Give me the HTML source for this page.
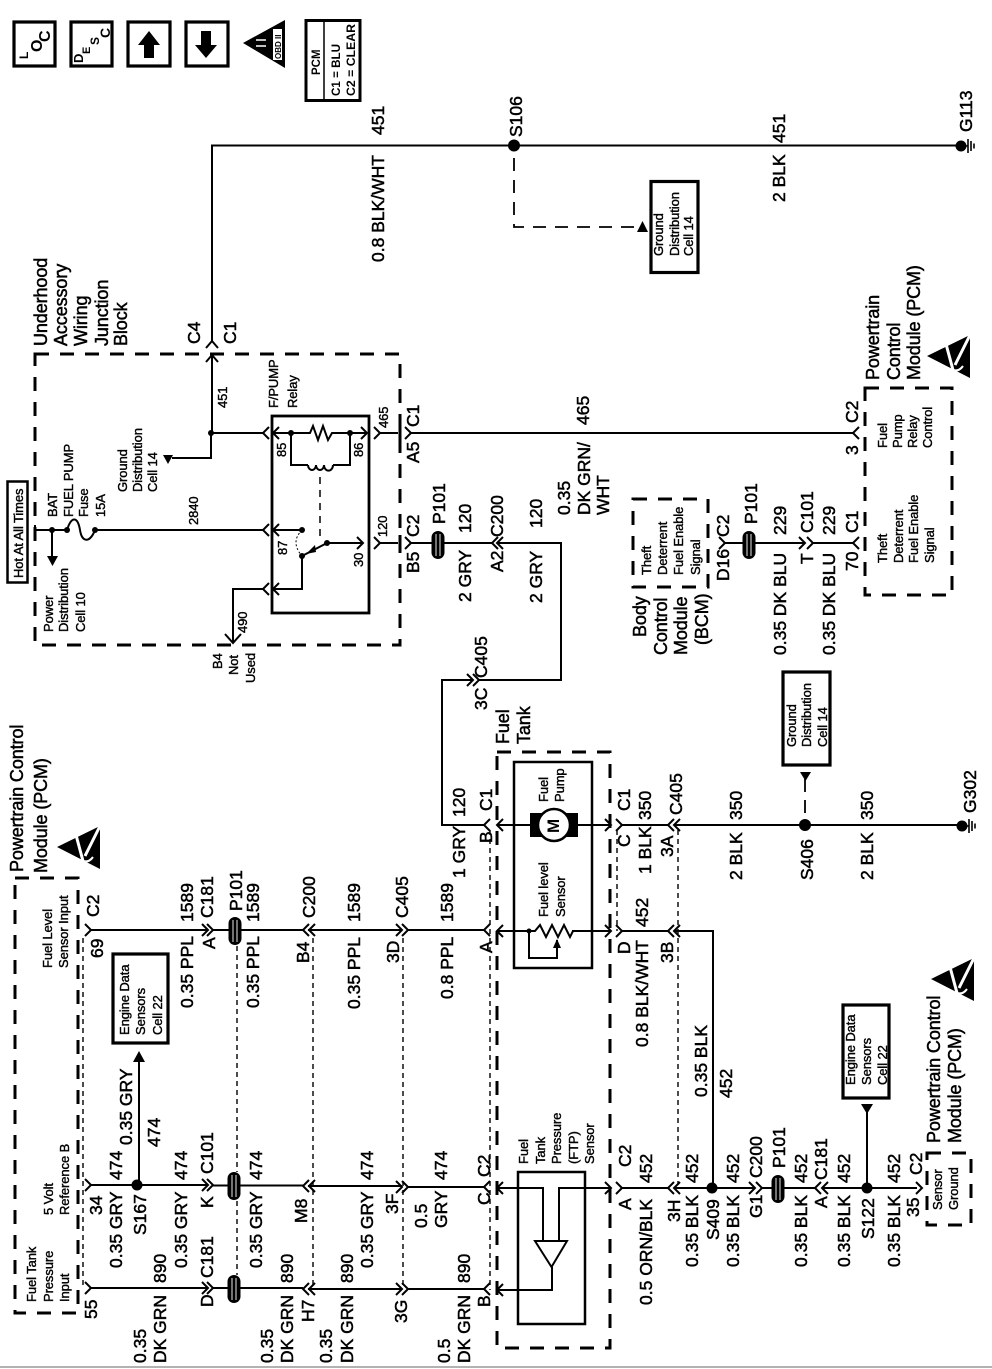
<!DOCTYPE html>
<html lang="en">
<head>
<meta charset="utf-8">
<title>Fuel pump wiring diagram</title>
<style>
html,body{margin:0;padding:0;background:#fff}
svg{display:block}
text{font-family:"Liberation Sans",Arial,sans-serif;fill:#000}
.l text{font-size:17.5px;stroke:#000;stroke-width:.5px}
.h text{font-size:18px;stroke:#000;stroke-width:.5px;letter-spacing:-.1px}
.s text{font-size:13px;stroke:#000;stroke-width:.4px;letter-spacing:-.1px}
.w{fill:none;stroke:#000;stroke-width:2}
.f{fill:none;stroke:#000;stroke-width:1.4;stroke-dasharray:5 4}
.d{fill:none;stroke:#000;stroke-width:3;stroke-dasharray:14 11}
.b{fill:#fff;stroke:#000;stroke-width:3.2}
</style>
</head>
<body>
<svg xmlns="http://www.w3.org/2000/svg" width="992" height="1369" viewBox="0 0 992 1369">
<defs>
<path id="cl" d="M6,-6L0,0L6,6" fill="none" stroke="#000" stroke-width="2"/>
<path id="cr" d="M-6,-6L0,0L-6,6" fill="none" stroke="#000" stroke-width="2"/>
<path id="cu" d="M-6,7L0,0L6,7" fill="none" stroke="#000" stroke-width="2"/>
<g id="pill"><rect x="-6.5" y="-14" width="13" height="28" rx="6.5" fill="#000"/><path d="M-2,-11V11M2,-11V11" stroke="#fff" stroke-width=".9"/></g>
<g id="esd"><path d="M0,0L43,-21V22Z" fill="#000"/><path d="M19,-12L26,14M43,-21L28,9" stroke="#fff" stroke-width="3" fill="none"/><path d="M24,13Q31,17 36,10" stroke="#fff" stroke-width="2" fill="none"/></g>
<g id="gnd"><circle r="5.5" fill="#000"/><path d="M5,0H7M7,-7V7M10,-5V5M13,-2.500V2.500" stroke="#000" stroke-width="1.600" fill="none"/></g>
</defs>

<!-- top icons -->
<rect x="14" y="22" width="41" height="44" class="b"/>
<rect x="71" y="22" width="41" height="44" class="b"/>
<rect x="128" y="22" width="42" height="44" class="b"/>
<rect x="186" y="22" width="42" height="44" class="b"/>
<path d="M149,31L160,45H154V58H144V45H138Z" fill="#000"/>
<path d="M206,58L195,45H201V31H211V45H217Z" fill="#000"/>
<path d="M243,43L285,20V68Z" fill="#000"/>
<rect x="273" y="29" width="9" height="31" fill="#fff"/>
<path d="M256,40H266M256,46H266" stroke="#fff" stroke-width="1.500"/>
<rect x="306" y="20.500" width="54" height="80" fill="#fff" stroke="#000" stroke-width="3"/>
<path d="M324,20V100" stroke="#000" stroke-width="1.500"/>

<!-- wires: top -->
<path class="w" d="M212,342V145.500H960"/>
<path class="w" d="M212,355V433M211,433H263M273,433H367M380,433H398M411,433H853M211,433V458H172"/>
<path d="M163,455H173L168,464Z" fill="#000"/>
<use href="#cu" x="212" y="341"/><use href="#cu" x="212" y="355"/>
<circle cx="211" cy="433" r="3"/>
<circle cx="514" cy="145.500" r="6"/>
<use href="#gnd" x="961" y="146"/>
<path class="f" d="M514,158V227H637" style="stroke-width:1.800;stroke-dasharray:13 9"/>
<path d="M637,232H648L642.500,221Z" fill="#000"/>
<rect x="651" y="181.500" width="47" height="91" class="b"/>

<!-- junction block -->
<rect x="35" y="354" width="365" height="291" class="d"/>
<path d="M400,425V441M400,535V551" stroke="#000" stroke-width="3"/>
<rect x="7.500" y="481.500" width="20" height="101" fill="#fff" stroke="#000" stroke-width="2.500"/>
<rect x="272" y="416" width="97" height="197" fill="none" stroke="#000" stroke-width="2.800"/>
<path class="w" d="M35,525V535M35,530H67M95,530H263M273,530H302M52,530V558"/>
<path d="M47,556H58L52.500,566Z" fill="#000"/>
<circle cx="52" cy="530" r="3"/><circle cx="67" cy="530" r="3"/><circle cx="95" cy="530" r="3"/><circle cx="302" cy="530" r="3"/>
<path class="w" d="M67,530C72,514 78,518 80,530C82,543 90,543 95,530"/>
<use href="#cl" x="263" y="433"/><use href="#cl" x="273" y="433"/><use href="#cr" x="367" y="433"/><use href="#cr" x="380" y="433"/><use href="#cr" x="411" y="433"/>
<use href="#cl" x="263" y="530"/><use href="#cl" x="273" y="530"/>
<use href="#cl" x="263" y="589"/><use href="#cl" x="273" y="589"/>
<circle cx="291" cy="433" r="3"/><circle cx="350" cy="433" r="3"/>
<rect x="306" y="428" width="30" height="10" fill="#fff"/>
<path class="w" d="M305,433L310,433L313,426L318,440L323,426L328,440L332,433L337,433"/>
<path class="w" d="M291,433V465H308M333,465H350V433M308,465a4,5 0 0 0 8,0a4,5 0 0 0 8,0a4,5 0 0 0 9,0"/>
<path d="M320,477V540" stroke="#000" stroke-width="1.500" stroke-dasharray="7 6" fill="none"/>
<path d="M302,530Q290,542 302,556" stroke="#000" stroke-width="1" stroke-dasharray="2 2" fill="none"/>
<path class="w" d="M302,556L327,543H363M302,556V589H273M263,589H233V642"/>
<circle cx="302" cy="556" r="3"/><circle cx="327" cy="543" r="3"/>
<path d="M306,554L315,545L316,552Z" fill="#000"/>
<use href="#cr" x="363" y="543"/><use href="#cr" x="380" y="543"/><use href="#cr" x="411" y="543"/>
<path d="M225,634L233,643L241,634" fill="none" stroke="#000" stroke-width="2"/>
<path class="w" d="M380,543H398M411,543H492M497,543H561V680H479M473,680H442V825H484"/>
<use href="#pill" x="438" y="545"/>
<use href="#cl" x="492" y="543"/><use href="#cl" x="497" y="543"/>
<use href="#cr" x="473" y="680"/><use href="#cr" x="479" y="680"/>

<!-- PCM top-right -->
<rect x="865" y="388" width="87" height="207" class="d"/>
<rect x="633" y="499" width="75" height="88" class="d"/>
<use href="#cl" x="853" y="433"/>
<path class="w" d="M725,543H805M813,543H853"/>
<use href="#cr" x="725" y="543"/><use href="#pill" x="749" y="545"/><use href="#cr" x="805" y="543"/><use href="#cr" x="813" y="543"/><use href="#cl" x="853" y="543"/>
<use href="#esd" x="927" y="356"/>
<use href="#esd" x="57" y="847"/>
<use href="#esd" x="931" y="979"/>

<!-- left PCM box -->
<rect x="15" y="878" width="63" height="435" class="d"/>
<rect x="113" y="954" width="55" height="89" class="b"/>
<path class="w" d="M139,1185V1058"/>
<path d="M133,1062H145L139,1051Z" fill="#000"/>
<circle cx="137" cy="1185" r="5.500"/>

<!-- horizontal harness lines -->
<path class="w" d="M91,930H208M213,930H303M308,930H402M408,930H484M497,931H611M622,931H668M674,931H713V1188"/>
<path class="w" d="M91,1185H208M213,1185.500H303M308,1186H402M408,1187H484M497,1188H611M622,1188H668M674,1188H755M762,1188H815M823,1188H917"/>
<path class="w" d="M91,1288H208M213,1288H303M308,1289H402M408,1289H484M497,1290H552V1267"/>
<path class="w" d="M497,825H611M622,825H668M674,825H962"/>
<use href="#cr" x="91" y="930"/><use href="#cr" x="208" y="930"/><use href="#cr" x="213" y="930"/><use href="#cl" x="303" y="930"/><use href="#cl" x="309" y="930"/><use href="#cr" x="402" y="930"/><use href="#cr" x="408" y="930"/><use href="#cl" x="484" y="930"/><use href="#cl" x="497" y="931"/><use href="#cr" x="611" y="931"/><use href="#cr" x="622" y="931"/><use href="#cl" x="668" y="931"/><use href="#cl" x="674" y="931"/>
<use href="#cr" x="91" y="1185"/><use href="#cr" x="208" y="1185"/><use href="#cr" x="213" y="1185"/><use href="#cl" x="303" y="1186"/><use href="#cl" x="309" y="1186"/><use href="#cr" x="402" y="1187"/><use href="#cr" x="408" y="1187"/><use href="#cl" x="484" y="1187"/><use href="#cl" x="497" y="1188"/><use href="#cr" x="611" y="1188"/><use href="#cr" x="622" y="1188"/><use href="#cl" x="668" y="1188"/><use href="#cl" x="674" y="1188"/><use href="#cr" x="755" y="1188"/><use href="#cr" x="762" y="1188"/><use href="#cl" x="815" y="1188"/><use href="#cl" x="822" y="1188"/><use href="#cr" x="922" y="1188"/>
<use href="#cr" x="91" y="1288"/><use href="#cr" x="208" y="1288"/><use href="#cr" x="213" y="1288"/><use href="#cl" x="303" y="1289"/><use href="#cl" x="309" y="1289"/><use href="#cr" x="402" y="1289"/><use href="#cr" x="408" y="1289"/><use href="#cl" x="484" y="1289"/><use href="#cl" x="497" y="1290"/>
<use href="#cl" x="484" y="825"/><use href="#cl" x="497" y="825"/><use href="#cr" x="611" y="825"/><use href="#cr" x="622" y="825"/><use href="#cl" x="668" y="825"/><use href="#cl" x="674" y="825"/>
<use href="#pill" x="235" y="931"/><use href="#pill" x="234" y="1186"/><use href="#pill" x="234" y="1289"/><use href="#pill" x="778" y="1189"/>
<path class="f" d="M83,938V1285M237,946V1172M237,1201V1275M313,938V1288M403,938V1288M490,830V1290M617,830V931M678,830V1185"/>

<!-- fuel tank -->
<rect x="497" y="752" width="113" height="596" class="d"/>
<rect x="514" y="762" width="78" height="206" fill="none" stroke="#000" stroke-width="2.500"/>
<rect x="518" y="1172" width="67" height="152" fill="none" stroke="#000" stroke-width="2.500"/>
<rect x="530" y="813" width="48" height="24" fill="#000"/>
<circle cx="554" cy="825" r="16" fill="#fff" stroke="#000" stroke-width="2.500"/>
<rect x="533" y="925" width="39" height="12" fill="#fff"/>
<path class="w" d="M529,931H535L540,925L546,937L552,925L558,937L564,925L570,937L573,931H580"/>
<circle cx="529" cy="931" r="2.500"/>
<path class="w" d="M529,931V958H557V940"/>
<path d="M553,948H561L557,939Z" fill="#000"/>
<rect x="544" y="1186" width="14" height="4" fill="#fff"/>
<path class="w" d="M543,1188V1241M559,1188V1241M535,1241H567L551.500,1267Z"/>

<!-- right lower -->
<circle cx="712" cy="1188" r="5.500"/>
<circle cx="867" cy="1188" r="5.500"/>
<path class="w" d="M867,1188V1110"/>
<path d="M861,1104H873L867,1114Z" fill="#000"/>
<rect x="843" y="1005" width="46" height="93" class="b"/>
<rect x="927" y="1153" width="44" height="72" class="d"/>
<circle cx="805" cy="825" r="6"/>
<path d="M805,813V778" stroke="#000" stroke-width="1.800" stroke-dasharray="13 8" fill="none"/>
<path d="M800,772H811L805.500,781Z" fill="#000"/>
<rect x="783" y="672" width="47" height="93" class="b"/>
<use href="#gnd" x="962" y="826"/>
<path d="M0,1367H992" stroke="#999" stroke-width="1.500"/>

<!-- rotated text: x = -bottom, y = baseline -->
<g transform="rotate(-90)">
<text x="-59" y="28" font-size="12" font-weight="bold">L</text>
<text x="-52" y="42" font-size="16" font-weight="bold">O</text>
<text x="-42" y="50" font-size="16" font-weight="bold">C</text>
<text x="-63" y="83" font-size="13" font-weight="bold">D</text>
<text x="-54" y="90" font-size="11" font-weight="bold">E</text>
<text x="-45" y="99" font-size="12" font-weight="bold">S</text>
<text x="-38" y="110" font-size="14" font-weight="bold">C</text>
<text x="-59" y="281" font-size="8" font-weight="bold">OBD II</text>
<text x="-75" y="320" font-size="11.500" font-weight="bold">PCM</text>
<text x="-96" y="340" font-size="12" font-weight="bold" textLength="52" lengthAdjust="spacingAndGlyphs">C1 = BLU</text>
<text x="-96" y="355" font-size="12" font-weight="bold" textLength="72" lengthAdjust="spacingAndGlyphs">C2 = CLEAR</text>

<g class="h">
<text x="-346" y="47">Underhood</text><text x="-346" y="67">Accessory</text><text x="-346" y="87">Wiring</text><text x="-346" y="108">Junction</text><text x="-346" y="127">Block</text>
<text x="-380" y="879">Powertrain</text><text x="-380" y="900">Control</text><text x="-380" y="920">Module (PCM)</text>
<text x="-872" y="23">Powertrain Control</text><text x="-873" y="47">Module (PCM)</text>
<text x="-1143" y="940">Powertrain Control</text><text x="-1143" y="961">Module (PCM)</text>
<text x="-637" y="646">Body</text><text x="-655" y="667">Control</text><text x="-655" y="687">Module</text><text x="-645" y="708">(BCM)</text>
<text x="-744" y="509">Fuel</text><text x="-744" y="530">Tank</text>
</g>

<g class="l">
<text x="-135" y="384">451</text><text x="-262" y="384">0.8 BLK/WHT</text>
<text x="-137" y="522">S106</text><text x="-143" y="785">451</text><text x="-202" y="785">2 BLK</text><text x="-132" y="972">G113</text>
<text x="-344" y="200">C4</text><text x="-344" y="236">C1</text>
<text x="-427" y="419">C1</text><text x="-463" y="419">A5</text><text x="-537" y="419">C2</text><text x="-573" y="419">B5</text>
<text x="-524" y="445">P101</text><text x="-533" y="471">120</text><text x="-602" y="471">2 GRY</text>
<text x="-425" y="589">465</text><text x="-515" y="570">0.35</text><text x="-515" y="590">DK GRN/</text><text x="-515" y="609">WHT</text>
<text x="-572" y="503">A2</text><text x="-537" y="503">C200</text><text x="-528" y="542">120</text><text x="-603" y="542">2 GRY</text>
<text x="-581" y="729">D16</text><text x="-537" y="729">C2</text><text x="-524" y="757">P101</text>
<text x="-535" y="786">229</text><text x="-655" y="786">0.35 DK BLU</text><text x="-533" y="813">C101</text><text x="-564" y="813">T</text>
<text x="-535" y="835">229</text><text x="-655" y="835">0.35 DK BLU</text><text x="-533" y="858">C1</text><text x="-571" y="858">70</text><text x="-423" y="858">C2</text><text x="-455" y="858">3</text>
<text x="-710" y="487">3C</text><text x="-678" y="487">C405</text>

<text x="-917" y="99">C2</text><text x="-958" y="103">69</text>
<text x="-922" y="193">1589</text><text x="-1008" y="193">0.35 PPL</text><text x="-918" y="213">C181</text><text x="-949" y="215">A</text><text x="-911" y="242">P101</text>
<text x="-922" y="259">1589</text><text x="-1008" y="259">0.35 PPL</text><text x="-918" y="315">C200</text><text x="-963" y="309">B4</text>
<text x="-922" y="360">1589</text><text x="-1009" y="360">0.35 PPL</text><text x="-918" y="408">C405</text><text x="-963" y="399">3D</text>
<text x="-922" y="453">1589</text><text x="-999" y="453">0.8 PPL</text><text x="-953" y="492">A</text>
<text x="-817" y="465">120</text><text x="-878" y="465">1 GRY</text><text x="-811" y="492">C1</text><text x="-843" y="492">B</text>

<text x="-811" y="630">C1</text><text x="-847" y="630">C</text><text x="-820" y="651">350</text><text x="-874" y="651">1 BLK</text>
<text x="-815" y="682">C405</text><text x="-857" y="673">3A</text><text x="-820" y="742">350</text><text x="-880" y="742">2 BLK</text>
<text x="-880" y="813">S406</text><text x="-820" y="873">350</text><text x="-880" y="873">2 BLK</text><text x="-813" y="976">G302</text>
<text x="-954" y="630">D</text><text x="-927" y="648">452</text><text x="-1047" y="648">0.8 BLK/WHT</text><text x="-963" y="673">3B</text>
<text x="-1097" y="707">0.35 BLK</text><text x="-1098" y="732">452</text>

<text x="-1145" y="132">0.35 GRY</text><text x="-1147" y="160">474</text><text x="-1180" y="122">474</text><text x="-1268" y="122">0.35 GRY</text><text x="-1215" y="102">34</text><text x="-1235" y="146">S167</text>
<text x="-1180" y="187">474</text><text x="-1268" y="187">0.35 GRY</text><text x="-1174" y="213">C101</text><text x="-1208" y="213">K</text>
<text x="-1180" y="262">474</text><text x="-1268" y="262">0.35 GRY</text><text x="-1223" y="307">M8</text>
<text x="-1180" y="373">474</text><text x="-1268" y="373">0.35 GRY</text><text x="-1214" y="398">3F</text>
<text x="-1180" y="447">474</text><text x="-1228" y="427">0.5</text><text x="-1228" y="447">GRY</text><text x="-1177" y="490">C2</text><text x="-1205" y="490">C</text>
<text x="-1319" y="97">55</text><text x="-1283" y="166">890</text><text x="-1363" y="146">0.35</text><text x="-1363" y="166">DK GRN</text><text x="-1278" y="213">C181</text><text x="-1307" y="213">D</text>
<text x="-1283" y="293">890</text><text x="-1363" y="273">0.35</text><text x="-1363" y="293">DK GRN</text><text x="-1322" y="314">H7</text>
<text x="-1283" y="353">890</text><text x="-1363" y="332">0.35</text><text x="-1363" y="353">DK GRN</text><text x="-1323" y="407">3G</text>
<text x="-1283" y="470">890</text><text x="-1363" y="450">0.5</text><text x="-1363" y="470">DK GRN</text><text x="-1307" y="490">B</text>

<text x="-1167" y="631">C2</text><text x="-1210" y="631">A</text><text x="-1183" y="652">452</text><text x="-1305" y="652">0.5 ORN/BLK</text>
<text x="-1222" y="680">3H</text><text x="-1183" y="698">452</text><text x="-1267" y="698">0.35 BLK</text><text x="-1240" y="719">S409</text>
<text x="-1183" y="739">452</text><text x="-1267" y="739">0.35 BLK</text><text x="-1178" y="762">C200</text><text x="-1218" y="762">G1</text><text x="-1168" y="785">P101</text>
<text x="-1183" y="807">452</text><text x="-1267" y="807">0.35 BLK</text><text x="-1180" y="827">C181</text><text x="-1208" y="827">A</text>
<text x="-1183" y="850">452</text><text x="-1267" y="850">0.35 BLK</text><text x="-1239" y="874">S122</text>
<text x="-1183" y="900">452</text><text x="-1267" y="900">0.35 BLK</text><text x="-1175" y="922">C2</text><text x="-1217" y="919">35</text>
</g>

<g class="s">
<text x="-578" y="23">Hot At All Times</text>
<text x="-408" y="278">F/PUMP</text><text x="-408" y="297">Relay</text>
<text x="-428" y="388">465</text><text x="-457" y="286">85</text><text x="-457" y="363">86</text><text x="-555" y="287">87</text><text x="-567" y="363">30</text><text x="-537" y="387">120</text>
<text x="-408" y="227">451</text><text x="-525" y="198">2840</text><text x="-633" y="247">490</text>
<text x="-492" y="127">Ground</text><text x="-492" y="142">Distribution</text><text x="-492" y="157">Cell 14</text>
<text x="-517" y="57">BAT</text><text x="-517" y="73">FUEL PUMP</text><text x="-517" y="88">Fuse</text><text x="-517" y="105">15A</text>
<text x="-632" y="53">Power</text><text x="-632" y="68">Distribution</text><text x="-632" y="85">Cell 10</text>
<text x="-669" y="222">B4</text><text x="-675" y="238">Not</text><text x="-683" y="255">Used</text>
<text x="-256" y="663">Ground</text><text x="-256" y="679">Distribution</text><text x="-256" y="693">Cell 14</text>
<text x="-575" y="651">Theft</text><text x="-575" y="667">Deterrent</text><text x="-575" y="683">Fuel Enable</text><text x="-575" y="700">Signal</text>
<text x="-448" y="887">Fuel</text><text x="-448" y="902">Pump</text><text x="-448" y="917">Relay</text><text x="-448" y="932">Control</text>
<text x="-563" y="887">Theft</text><text x="-563" y="903">Deterrent</text><text x="-563" y="918">Fuel Enable</text><text x="-563" y="934">Signal</text>
<text x="-968" y="52">Fuel Level</text><text x="-968" y="68">Sensor Input</text>
<text x="-1035" y="129">Engine Data</text><text x="-1035" y="145">Sensors</text><text x="-1035" y="162">Cell 22</text>
<text x="-1215" y="53">5 Volt</text><text x="-1215" y="69">Reference B</text>
<text x="-1302" y="36">Fuel Tank</text><text x="-1302" y="53">Pressure</text><text x="-1302" y="69">Input</text>
<text x="-802" y="548">Fuel</text><text x="-802" y="564">Pump</text>
<text x="-917" y="548">Fuel level</text><text x="-917" y="565">Sensor</text>
<text x="-1164" y="528">Fuel</text><text x="-1164" y="545">Tank</text><text x="-1164" y="561">Pressure</text><text x="-1164" y="578">(FTP)</text><text x="-1164" y="594">Sensor</text>
<text x="-747" y="796">Ground</text><text x="-747" y="811">Distribution</text><text x="-747" y="827">Cell 14</text>
<text x="-1085" y="855">Engine Data</text><text x="-1085" y="871">Sensors</text><text x="-1085" y="887">Cell 22</text>
<text x="-1210" y="942">Sensor</text><text x="-1210" y="958">Ground</text>
</g>
<text x="-833" y="559" font-size="17" font-weight="bold">M</text>
</g>
</svg>
</body>
</html>
